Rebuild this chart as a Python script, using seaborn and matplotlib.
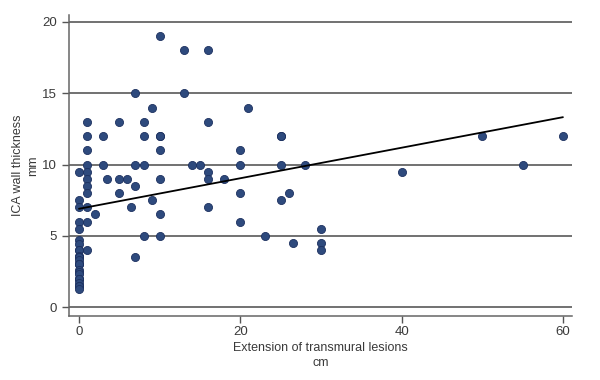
import matplotlib
matplotlib.use("Agg")
import matplotlib.pyplot as plt
import seaborn as sns
import pandas as pd

# Extension of transmural lesions (cm)
lesion_cm = (
    [0] * 26 + [1] * 11 + [2] + [3] * 2 + [3.5] + [5] * 3 + [6] + [6.5]
    + [7] * 4 + [8] * 4 + [9] * 2 + [10] * 7 + [13] * 2 + [14] + [15]
    + [16] * 5 + [18] + [20] * 4 + [21] + [23] + [25] * 4 + [26] + [26.5]
    + [28] + [30] * 3 + [40] + [50] + [55] + [60]
)
# ICA wall thickness (mm)  (several overlapping markers are stacked)
wall_mm = (
    [9.5, 7.5, 7, 6, 5.5, 4.7, 4.4, 4, 4, 3.6, 3.5, 3.5, 3.3, 3, 3, 3,
     2.6, 2.5, 2.3, 2, 2, 2, 1.7, 1.5, 1.5, 1.3]
    + [13, 12, 11, 10, 9.5, 9, 8.5, 8, 7, 6, 4]
    + [6.5]
    + [12, 10]
    + [9]
    + [13, 9, 8]
    + [9]
    + [7]
    + [15, 10, 8.5, 3.5]
    + [13, 12, 10, 5]
    + [14, 7.5]
    + [19, 12, 12, 11, 9, 6.5, 5]
    + [18, 15]
    + [10]
    + [10]
    + [18, 13, 9.5, 9, 7]
    + [9]
    + [11, 10, 8, 6]
    + [14]
    + [5]
    + [12, 12, 10, 7.5]
    + [8]
    + [4.5]
    + [10]
    + [5.5, 4.5, 4]
    + [9.5]
    + [12]
    + [10]
    + [12]
)
x_ticks = [0, 20, 40, 60]
y_ticks = [0, 5, 10, 15, 20]
x_label = "Extension of transmural lesions\ncm"
y_label = "ICA wall thickness\nmm"

df = pd.DataFrame({"lesion": lesion_cm, "wall": wall_mm})

sns.set_style("white")
plt.rcParams["font.family"] = ["Liberation Sans", "DejaVu Sans"]

fig = plt.figure(figsize=(6, 3.8), dpi=100)
ax = fig.add_axes([0.115, 0.168, 0.838, 0.793])

for yv in y_ticks:
    ax.axhline(yv, color="#4a4a4a", lw=1.1, zorder=1)

sns.regplot(
    data=df, x="lesion", y="wall", ax=ax, ci=None,
    scatter_kws=dict(s=34, color="#2e4a7d", edgecolor="#1d3160",
                     linewidths=0.6, alpha=1, zorder=3),
    line_kws=dict(color="black", lw=1.3, zorder=4),
)

ax.set_xlim(-1.24, 61.1)
ax.set_ylim(-0.63, 20.5)
ax.set_xticks(x_ticks)
ax.set_yticks(y_ticks)
ax.set_xlabel(x_label, fontsize=9, color="#3a3a3a", labelpad=3, linespacing=1.3)
ax.set_ylabel(y_label, fontsize=9, color="#3a3a3a", labelpad=2, linespacing=1.4)
ax.tick_params(axis="both", labelsize=9.5, labelcolor="#3a3a3a",
               color="#555555", length=5, width=1, direction="out",
               left=True, bottom=True)
ax.tick_params(axis="x", pad=2)
for s in ["top", "right"]:
    ax.spines[s].set_visible(False)
for s in ["left", "bottom"]:
    ax.spines[s].set_color("#666666")
    ax.spines[s].set_linewidth(1.1)

fig.savefig("out.png", dpi=100, facecolor="white")
